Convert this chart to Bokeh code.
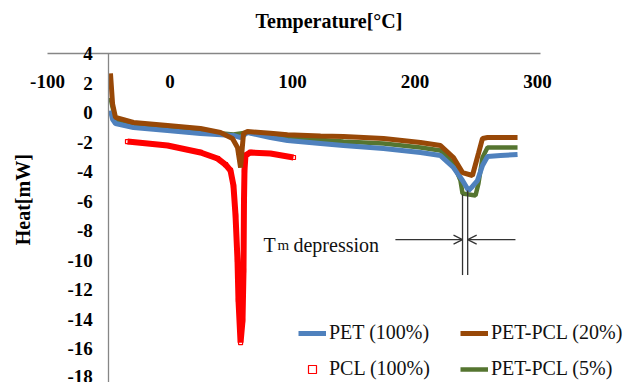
from bokeh.plotting import figure
from bokeh.models import (Range1d, LinearAxis, FixedTicker, Label, Legend,
                          LegendItem, Arrow, OpenHead)
from bokeh.embed import file_html
from bokeh.resources import INLINE

# ---------------- data ----------------
x_ticks = [-100, 0, 100, 200, 300]
x_tick_labels = ["-100", "0", "100", "200", "300"]
y_ticks = [4, 2, 0, -2, -4, -6, -8, -10, -12, -14, -16, -18]
y_tick_labels = ["4", "2", "0", "-2", "-4", "-6", "-8", "-10", "-12", "-14", "-16", "-18"]

pet_t = [-48.6, -46.9, -44.5, -29.8, -2.0, 24.9, 51.8, 57.6, 63.3, 82.0, 95.9, 122.9,
         141.6, 174.3, 204.5, 220.8, 231.4, 238.8, 243.7, 246.9, 251.0, 255.1, 259.2,
         269.8, 283.7]
pet_h = [0.14, -0.45, -0.74, -1.01, -1.21, -1.42, -1.55, -1.69, -1.35, -1.69, -1.89, -2.09,
         -2.23, -2.43, -2.70, -2.91, -3.72, -4.60, -5.28, -5.00, -4.60, -3.58, -2.97,
         -2.91, -2.84]

pcl_t = [-34.7, -2.0, 24.9, 38.8, 45.3, 49.4, 51.8, 53.5, 55.1, 55.9, 57.6, 59.2, 60.0,
         60.4, 60.8, 61.6, 65.7, 82.0, 100.8]
pcl_h = [-1.96, -2.23, -2.70, -3.11, -3.52, -3.92, -4.94, -6.97, -10.0, -12.7, -15.57,
         -14.08, -10.7, -5.95, -3.92, -2.90, -2.70, -2.77, -3.04]

pcl20_t = [-48.6, -46.9, -44.5, -29.8, -2.0, 24.9, 41.2, 51.0, 55.1, 57.6, 60.0, 63.3,
           82.0, 95.9, 122.9, 141.6, 174.3, 204.5, 220.8, 231.4, 238.8, 246.9, 251.8,
           255.1, 259.2, 283.7]
pcl20_h = [2.65, 0.60, -0.33, -0.67, -0.87, -1.08, -1.35, -1.75, -2.36, -3.72, -1.42,
           -1.28, -1.40, -1.50, -1.58, -1.62, -1.75, -2.03, -2.23, -3.04, -4.06, -4.26,
           -2.77, -1.75, -1.69, -1.69]

pcl5_t = [-48.6, -44.5, -29.8, -2.0, 24.9, 51.8, 63.3, 82.0, 106.5, 141.6, 174.3, 204.5,
          220.8, 231.4, 237.1, 238.8, 249.4, 251.8, 255.1, 259.2, 283.7]
pcl5_h = [1.0, -0.54, -0.87, -1.08, -1.28, -1.48, -1.35, -1.55, -1.75, -1.96, -2.09,
          -2.36, -2.57, -3.45, -4.60, -5.48, -5.61, -4.80, -3.04, -2.36, -2.36]

# Tm depression annotation (data positions)
tm_blend = 238.8
tm_pet = 243.0
tm_blend_top = -5.55
tm_pet_top = -5.28
tm_line_bottom = -11.0
arrow_level = -8.6
arrow_left_start = 184.0
arrow_right_start = 282.0

C_PET = "#4F81BD"
C_PCL = "#FF0000"
C_20 = "#984807"
C_5 = "#557530"
AX = "#868686"
FONT = "Liberation Serif"

# frame covers the whole canvas; axis lines limited with bounds
p = figure(width=632, height=382, x_range=Range1d(-138.37, 377.55),
           y_range=Range1d(-18.275, 7.588),
           output_backend="svg", toolbar_location=None, x_axis_type=None, y_axis_type=None,
           min_border_left=0, min_border_right=0, min_border_top=0, min_border_bottom=0)
p.outline_line_color = None
p.background_fill_color = "white"
p.border_fill_color = "white"

# axes
xa = LinearAxis(fixed_location=4, ticker=FixedTicker(ticks=x_ticks), bounds=(-100, 302.4),
                major_label_overrides=dict(zip(x_ticks, x_tick_labels)))
ya = LinearAxis(fixed_location=-50, ticker=FixedTicker(ticks=y_ticks), bounds=(-18.3, 4),
                major_label_overrides=dict(zip(y_ticks, y_tick_labels)))
for ax in (xa, ya):
    ax.axis_line_color = AX
    ax.axis_line_width = 1.3
    ax.major_tick_out = 0
    ax.major_tick_in = 0
    ax.minor_tick_out = 0
    ax.minor_tick_in = 0
    ax.major_label_text_font = FONT
    ax.major_label_text_font_style = "bold"
    ax.major_label_text_font_size = "19px"
    ax.major_label_text_color = "black"
xa.major_label_standoff = 22
ya.major_label_standoff = 16
p.add_layout(xa, "below")
p.add_layout(ya, "left")

# series
r5 = p.line(pcl5_t, pcl5_h, line_color=C_5, line_width=4.5)
r_pcl = p.line(pcl_t, pcl_h, line_color=C_PCL, line_width=6)
r_pcl_sq = p.scatter(pcl_t, pcl_h, marker="square", size=4, line_color=C_PCL,
                     fill_color=None, line_width=1.2)
r_pet = p.line(pet_t, pet_h, line_color=C_PET, line_width=5)
r20 = p.line(pcl20_t, pcl20_h, line_color=C_20, line_width=5)

# Tm depression annotation
p.segment(x0=[tm_blend, tm_pet], y0=[tm_blend_top, tm_pet_top],
          x1=[tm_blend, tm_pet], y1=[tm_line_bottom, tm_line_bottom],
          line_color="#333333", line_width=1.3)
p.add_layout(Arrow(end=OpenHead(size=9, line_color="#333333", line_width=1.2),
                   x_start=arrow_left_start, y_start=arrow_level,
                   x_end=tm_blend, y_end=arrow_level,
                   line_color="#333333", line_width=1.2))
p.add_layout(Arrow(end=OpenHead(size=9, line_color="#333333", line_width=1.2),
                   x_start=arrow_right_start, y_start=arrow_level,
                   x_end=tm_pet, y_end=arrow_level,
                   line_color="#333333", line_width=1.2))

tm_y = -8.99
p.add_layout(Label(x=76.3, y=tm_y, text="T", text_font=FONT, text_font_size="20px",
                   text_baseline="alphabetic", text_align="left", text_color="#111111"))
p.add_layout(Label(x=76.3, y=tm_y, x_offset=14, text="m", text_font=FONT,
                   text_font_size="15px", text_baseline="alphabetic", text_align="left",
                   text_color="#111111"))
p.add_layout(Label(x=76.3, y=tm_y, x_offset=30, text="depression", text_font=FONT,
                   text_font_size="20px", text_baseline="alphabetic", text_align="left",
                   text_color="#111111"))

# titles
p.add_layout(Label(x=129.8, y=6.17, text="Temperature[°C]", text_font=FONT,
                   text_font_style="bold", text_font_size="20px", text_align="center",
                   text_baseline="middle", text_color="black"))
p.add_layout(Label(x=-120.4, y=-5.9, text="Heat[mW]", angle=1.5708, text_font=FONT,
                   text_font_style="bold", text_font_size="20px", text_align="center",
                   text_baseline="middle", text_color="black"))

# legends
def mk_legend(items, loc):
    return Legend(items=items, location=loc, orientation="vertical",
                  glyph_width=28, glyph_height=20, label_height=20, label_standoff=3,
                  label_text_font=FONT, label_text_font_size="20px",
                  label_text_color="#111111", spacing=13, padding=0, margin=0,
                  border_line_alpha=0, background_fill_alpha=0)

p.add_layout(mk_legend([LegendItem(label="PET (100%)", renderers=[r_pet]),
                        LegendItem(label="PCL (100%)", renderers=[r_pcl_sq])], (298, 2)))
p.add_layout(mk_legend([LegendItem(label="PET-PCL (20%)", renderers=[r20]),
                        LegendItem(label="PET-PCL (5%)", renderers=[r5])], (460, 2)))

open("out.html", "w").write(file_html(p, INLINE))
